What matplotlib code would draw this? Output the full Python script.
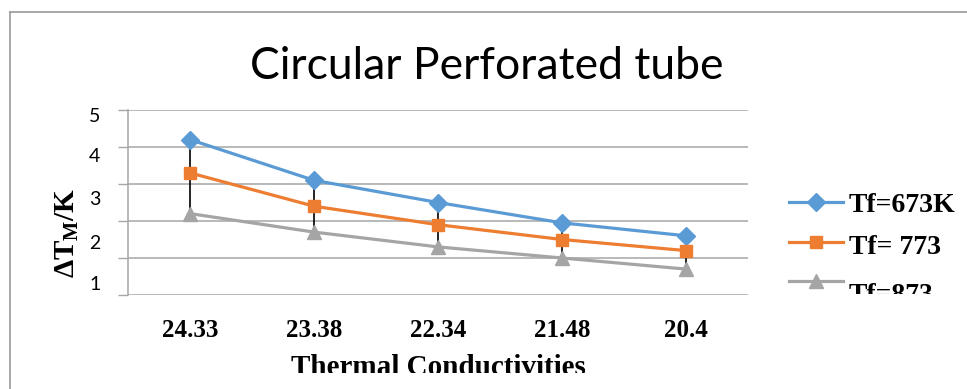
import numpy as np
import matplotlib
matplotlib.use("Agg")
from matplotlib import pyplot as plt
from matplotlib.lines import Line2D
from matplotlib.patches import Rectangle

plt.rcParams['mathtext.fontset'] = 'custom'
plt.rcParams['mathtext.rm'] = 'Liberation Serif'
plt.rcParams['mathtext.bf'] = 'Liberation Serif:bold'

#=================================================
#DATA
#=================================================
conductivities = ['24.33', '23.38', '22.34', '21.48', '20.4']
tf_673 = [4.2, 3.1, 2.5, 1.95, 1.6]
tf_773 = [3.3, 2.4, 1.9, 1.5, 1.2]
tf_873 = [2.2, 1.7, 1.3, 1.0, 0.7]
series_labels = ['Tf=673K', 'Tf= 773', 'Tf=873']
series_colors = ['#5B9BD5', '#ED7D31', '#A5A5A5']
series_markers = ['D', 's', '^']

# y tick labels sit a little off the gridlines in the original
ytick_pos = [4.86, 3.78, 2.62, 1.43, 0.32]
ytick_labels = ['5', '4', '3', '2', '1']

#=================================================
#PLOT
#=================================================
W, H = 967, 389
fig = plt.figure(figsize=(W / 100, H / 100), dpi=100)
ax = fig.add_axes([128 / W, 1 - 295 / H, 620 / W, 185 / H])

x = np.arange(len(conductivities))
all_series = [tf_673, tf_773, tf_873]

# high-low lines
lo = np.min(all_series, axis=0)
hi = np.max(all_series, axis=0)
ax.vlines(x, lo, hi, color='black', lw=1.2, zorder=2)

msizes = [9, 9, 10]
for vals, lab, col, mk, ms in zip(all_series, series_labels, series_colors, series_markers, msizes):
    ax.plot(x, vals, color=col, lw=2.3, marker=mk, markersize=ms,
            markeredgecolor=col, label=lab, zorder=3)

ax.set_xlim(-0.5, len(x) - 0.5)
ax.set_ylim(0, 5)
ax.set_xticks(x)
ax.set_xticklabels(conductivities, fontfamily='Liberation Serif',
                   fontweight='bold', fontsize=18)
ax.tick_params(axis='x', length=0, pad=17)

ax.set_yticks(ytick_pos)
ax.set_yticklabels(ytick_labels, fontfamily='Lato', fontsize=14)
ax.tick_params(axis='y', which='major', length=0, pad=20)
ax.set_yticks(np.arange(0, 6), minor=True)
ax.tick_params(axis='y', which='minor', length=7, width=1.0, color='#a6a6a6')
ax.yaxis.grid(True, which='minor', color='#a6a6a6', lw=1.1)
ax.set_axisbelow(True)

for side in ['top', 'right', 'bottom']:
    ax.spines[side].set_visible(False)
ax.spines['left'].set_color('#a6a6a6')
ax.spines['left'].set_linewidth(1.1)

ax.set_ylabel(r'$\mathbf{\Delta T_M/K}$', fontsize=21)
ax.yaxis.set_label_coords(-0.076, 0.335)

ax.set_xlabel('Thermal Conductivities', fontfamily='Liberation Serif',
              fontweight='bold', fontsize=21)
ax.xaxis.set_label_coords(0.5, -0.318)

fig.text(487 / W, 1 - 79 / H, 'Circular Perforated tube', fontfamily='Lato',
         fontsize=32, ha='center', va='baseline')

# legend drawn by hand: the rows in the original drift apart a little
handle_y = [202, 242, 281]
text_y = [205, 248, 295]
for lab, col, mk, ms, hy, ty in zip(series_labels, series_colors, series_markers,
                                    msizes, handle_y, text_y):
    fig.add_artist(Line2D([789 / W, 843 / W], [1 - hy / H, 1 - hy / H],
                          transform=fig.transFigure, color=col, lw=2.3))
    fig.add_artist(Line2D([816 / W], [1 - hy / H], transform=fig.transFigure,
                          color=col, marker=mk, markersize=ms, markeredgecolor=col))
    fig.text(849 / W, 1 - ty / H, lab, fontfamily='Liberation Serif',
             fontweight='bold', fontsize=20, ha='left', va='center')

# the original picture is cut off below the legend and x label
fig.add_artist(Rectangle((846 / W, 1 - 330 / H), 121 / W, 36 / H, transform=fig.transFigure,
                         facecolor='white', edgecolor='none', zorder=10))
fig.add_artist(Rectangle((20 / W, 0), 930 / W, 16 / H, transform=fig.transFigure,
                         facecolor='white', edgecolor='none', zorder=10))

# chart frame (left and top edges only are visible)
fig.add_artist(Line2D([10 / W, 10 / W], [0, 1 - 12 / H], transform=fig.transFigure,
                      color='#999999', lw=1.2, zorder=11))
fig.add_artist(Line2D([10 / W, 1], [1 - 12 / H, 1 - 12 / H], transform=fig.transFigure,
                      color='#999999', lw=1.2, zorder=11))

plt.savefig('out.png', dpi=100)
